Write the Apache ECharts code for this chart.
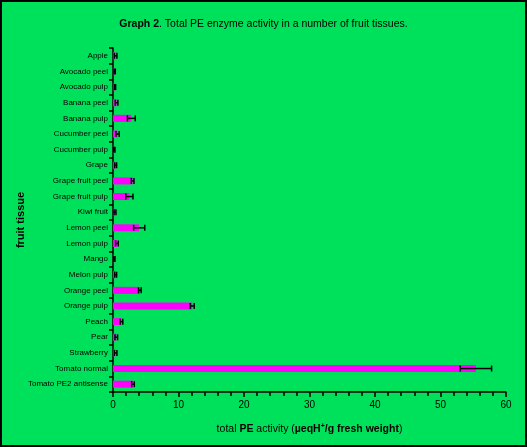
<!DOCTYPE html>
<html>
<head>
<meta charset="utf-8">
<script src="https://cdn.jsdelivr.net/npm/echarts@6/dist/echarts.min.js"></script>
<style>
  html, body { margin: 0; padding: 0; background: #00e15b; }
  #chart { width: 527px; height: 447px; }
</style>
</head>
<body>
<div id="chart"></div>
<script>
// fruit tissues, top to bottom
var categories = ['Apple', 'Avocado peel', 'Avocado pulp', 'Banana peel', 'Banana pulp',
  'Cucumber peel', 'Cucumber pulp', 'Grape', 'Grape fruit peel', 'Grape fruit pulp',
  'Kiwi fruit', 'Lemon peel', 'Lemon pulp', 'Mango', 'Melon pulp', 'Orange peel',
  'Orange pulp', 'Peach', 'Pear', 'Strawberry', 'Tomato normal', 'Tomato PE2 antisense'];
// total PE activity (µeqH+/g fresh weight)
var activity = [0.4, 0.25, 0.3, 0.55, 2.8, 0.7, 0.2, 0.4, 3.0, 2.5,
  0.3, 4.0, 0.6, 0.2, 0.4, 4.1, 12.1, 1.3, 0.5, 0.4, 55.4, 3.05];
// error (+/-)
var errors = [0.2, 0.1, 0.1, 0.2, 0.6, 0.25, 0.1, 0.15, 0.2, 0.55,
  0.15, 0.85, 0.2, 0.1, 0.15, 0.2, 0.3, 0.2, 0.2, 0.2, 2.4, 0.2];
var xTicks = [0, 10, 20, 30, 40, 50, 60];

var myChart = echarts.init(document.getElementById('chart'));

var errData = categories.map(function (c, i) {
  return [i, activity[i] - errors[i], activity[i] + errors[i]];
});

var option = {
  backgroundColor: '#00e15b',
  animation: false,
  title: {
    text: '{b|Graph 2}. Total PE enzyme activity in a number of fruit tissues.',
    left: 'center',
    top: 14,
    textStyle: {
      fontFamily: 'Liberation Sans',
      fontSize: 10.5,
      fontWeight: 'normal',
      color: '#000',
      rich: { b: { fontFamily: 'Liberation Sans', fontSize: 10.5, fontWeight: 'bold', color: '#000' } }
    }
  },
  graphic: [{
    type: 'rect',
    shape: { x: 1, y: 1, width: 525, height: 445 },
    style: { fill: null, stroke: '#000', lineWidth: 2 },
    silent: true
  }],
  grid: { left: 113, right: 21, top: 48, bottom: 55 },
  xAxis: {
    type: 'value',
    min: xTicks[0],
    max: xTicks[xTicks.length - 1],
    interval: 10,
    splitLine: { show: false },
    axisLine: { show: true, lineStyle: { color: '#000', width: 1.5 } },
    axisTick: { show: true, length: 5, lineStyle: { color: '#000', width: 1.5 } },
    minorTick: { show: true, splitNumber: 5, length: 4, lineStyle: { color: '#000', width: 1.5 } },
    axisLabel: { color: '#000', fontFamily: 'Liberation Sans', fontSize: 10, margin: 8 },
    name: 'total {b|PE} activity ({b|µeqH}{sup|+}{b|/g fresh weight})',
    nameLocation: 'middle',
    nameGap: 31,
    nameMoveOverlap: false,
    nameTextStyle: {
      color: '#000', fontFamily: 'Liberation Sans', fontSize: 10.5,
      rich: {
        b: { color: '#000', fontFamily: 'Liberation Sans', fontSize: 10.5, fontWeight: 'bold' },
        sup: { color: '#000', fontFamily: 'Liberation Sans', fontSize: 7, fontWeight: 'bold', verticalAlign: 'top', padding: [0, 0, 6, 0] }
      }
    }
  },
  yAxis: {
    type: 'category',
    data: categories,
    inverse: true,
    axisLine: { show: true, lineStyle: { color: '#000', width: 1.5 } },
    axisTick: { show: true, length: 4, lineStyle: { color: '#000', width: 1.5 } },
    axisLabel: { color: '#000', fontFamily: 'Liberation Sans', fontSize: 8, margin: 5 },
    name: 'fruit tissue',
    nameLocation: 'middle',
    nameGap: 87,
    nameMoveOverlap: false,
    nameTextStyle: { color: '#000', fontFamily: 'Liberation Sans', fontSize: 11, fontWeight: 'bold' }
  },
  series: [
    {
      type: 'bar',
      data: activity,
      barWidth: 7,
      itemStyle: { color: '#ff00ff' }
    },
    {
      type: 'custom',
      data: errData,
      z: 5,
      renderItem: function (params, api) {
        var i = api.value(0);
        var lo = api.coord([api.value(1), i]);
        var hi = api.coord([api.value(2), i]);
        var y = lo[1];
        var h = 3;
        var st = { stroke: '#000', lineWidth: 1.5 };
        return {
          type: 'group',
          children: [
            { type: 'line', shape: { x1: lo[0], y1: y, x2: hi[0], y2: y }, style: st },
            { type: 'line', shape: { x1: lo[0], y1: y - h, x2: lo[0], y2: y + h }, style: st },
            { type: 'line', shape: { x1: hi[0], y1: y - h, x2: hi[0], y2: y + h }, style: st }
          ]
        };
      }
    }
  ]
};

myChart.setOption(option);
</script>
</body>
</html>
